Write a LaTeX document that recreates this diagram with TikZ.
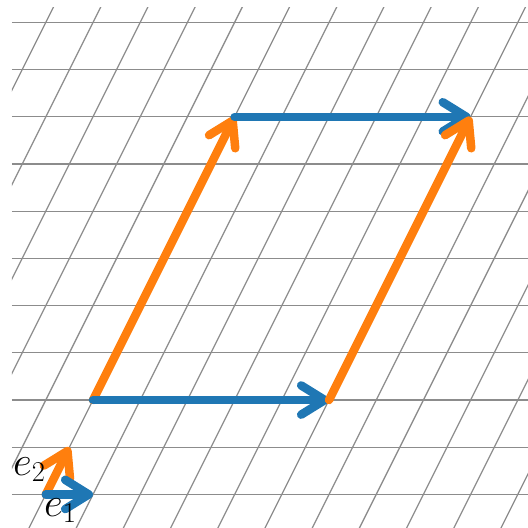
\documentclass[tikz,border=0pt]{standalone}
\usetikzlibrary{arrows.meta}
\definecolor{mblue}{HTML}{1F77B4}
\definecolor{morange}{HTML}{FF7F0E}
\definecolor{gridgray}{HTML}{8C8C8C}
\tikzset{
  gridline/.style={draw=gridgray, line width=0.75pt},
  vec/.style={line width=0.18cm, line cap=round,
    -{Straight Barb[length=0.5cm, width=0.62cm, round]}},
  lab/.style={inner sep=0pt, anchor=base west, font=\fontsize{24}{28}\selectfont}
}
\begin{document}
\begin{tikzpicture}[x=1cm,y=1cm]
\useasboundingbox (-0.970,-0.691) rectangle (10.216,10.475);
\begin{scope}
\clip (-0.716,-0.8) rectangle (10.4,10.326);
\foreach \j in {0,...,10} \draw[gridline] (-0.716,\j) -- (10.4,\j);
\foreach \k in {-7,...,11} \draw[gridline] (\k-0.5,-1) -- (\k+5.5,11);
\end{scope}
\coordinate (O) at (0,0);
\coordinate (E1) at (1,0);
\coordinate (E2) at (0.5,1);
\coordinate (A) at (1,2);
\coordinate (B) at (6,2);
\coordinate (C) at (4,8);
\coordinate (D) at (9,8);
\draw[vec, morange] (A) -- (C);
\draw[vec, mblue] (A) -- (B);
\draw[vec, mblue] (C) -- (D);
\draw[vec, morange] (B) -- (D);
\draw[vec, morange] (O) -- (E2);
\draw[vec, mblue] (O) -- (E1);
\node[lab] (l2) at (-0.70,0.41) {$e_2$};
\node[lab] (l1) at (-0.04,-0.47) {$e_1$};
\end{tikzpicture}
\end{document}
